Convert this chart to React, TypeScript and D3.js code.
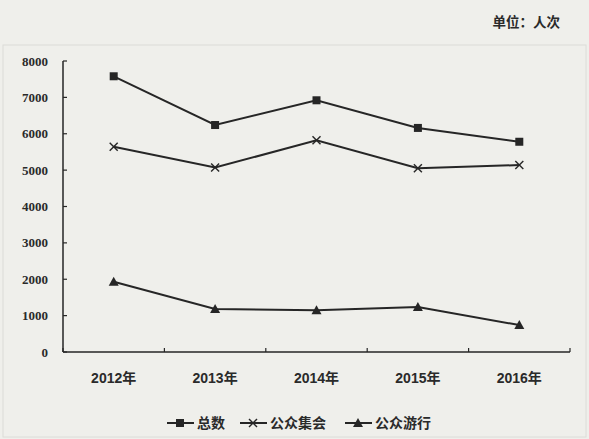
import React from "react";
import * as d3 from "d3";

const years = ["2012年", "2013年", "2014年", "2015年", "2016年"];
const totalValues = [7580, 6240, 6920, 6160, 5780];
const assemblyValues = [5640, 5070, 5820, 5050, 5140];
const processionValues = [1930, 1180, 1150, 1240, 740];
const seriesNames = ["总数", "公众集会", "公众游行"];
const yTicks = [0, 1000, 2000, 3000, 4000, 5000, 6000, 7000, 8000];
const unitLabel = "单位：人次";

const W = 589;
const H = 439;
const INK = "#262626";
const BG = "#efefeb";

function Marker({ kind, x, y }: { kind: string; x: number; y: number }) {
  if (kind === "square") {
    return <rect x={x - 4} y={y - 4} width={8} height={8} fill={INK} />;
  }
  if (kind === "cross") {
    return (
      <g stroke={INK} strokeWidth={1.4}>
        <line x1={x - 4} y1={y - 4} x2={x + 4} y2={y + 4} />
        <line x1={x - 4} y1={y + 4} x2={x + 4} y2={y - 4} />
      </g>
    );
  }
  return <path d={`M${x},${y - 5}L${x + 5},${y + 4}L${x - 5},${y + 4}Z`} fill={INK} />;
}

export default function App() {
  const left = 63;
  const right = 570;
  const top = 61;
  const bottom = 352;

  const x = d3.scaleBand<string>().domain(years).range([left, right]).padding(0);
  const y = d3.scaleLinear().domain([0, 8000]).range([bottom, top]);
  const cx = (d: string) => (x(d) as number) + x.bandwidth() / 2;

  const series = [
    { name: seriesNames[0], values: totalValues, marker: "square" },
    { name: seriesNames[1], values: assemblyValues, marker: "cross" },
    { name: seriesNames[2], values: processionValues, marker: "triangle" },
  ];

  const line = d3
    .line<number>()
    .x((_, i) => cx(years[i]))
    .y((v) => y(v));

  const bounds = [left, ...years.map((d) => (x(d) as number) + x.bandwidth())];

  const legendX = [167, 240, 345];
  const legendY = 423;

  return (
    <svg
      width={W}
      height={H}
      style={{ position: "absolute", left: 0, top: 0, background: BG }}
    >
      <rect x={0} y={0} width={W} height={H} fill={BG} />
      <rect x={3} y={45} width={583} height={392} fill="none" stroke="#dcdcd8" strokeWidth={1} />
      <text
        x={560}
        y={27}
        textAnchor="end"
        fontFamily="'Noto Sans CJK SC', sans-serif"
        fontWeight="bold"
        fontSize={13.5}
        fill="#2a2a2a"
      >
        {unitLabel}
      </text>

      {/* y axis */}
      <line x1={left} y1={top} x2={left} y2={bottom} stroke={INK} strokeWidth={1.5} />
      {yTicks.map((t) => (
        <g key={t}>
          <line x1={left} y1={y(t)} x2={left + 4} y2={y(t)} stroke={INK} strokeWidth={1.2} />
          <text
            x={48}
            y={y(t)}
            dy="0.35em"
            textAnchor="end"
            style={{ fontFamily: "'Liberation Serif', 'Times New Roman', serif" }}
            fontWeight="bold"
            fontSize={13}
            fill="#2a2a2a"
          >
            {t}
          </text>
        </g>
      ))}

      {/* x axis */}
      <line x1={left} y1={bottom} x2={right} y2={bottom} stroke={INK} strokeWidth={1.5} />
      {bounds.map((b, i) => (
        <line key={i} x1={b} y1={bottom} x2={b} y2={bottom - 4} stroke={INK} strokeWidth={1.2} />
      ))}
      {years.map((d) => (
        <text
          key={d}
          x={cx(d)}
          y={383}
          textAnchor="middle"
          fontFamily="'Liberation Sans', 'Noto Sans CJK SC', sans-serif"
          fontWeight="bold"
          fontSize={14}
          fill="#2a2a2a"
        >
          {d}
        </text>
      ))}

      {/* series */}
      {series.map((s) => (
        <g key={s.name}>
          <path d={line(s.values) || ""} fill="none" stroke={INK} strokeWidth={2} />
          {s.values.map((v, i) => (
            <Marker key={i} kind={s.marker} x={cx(years[i])} y={y(v)} />
          ))}
        </g>
      ))}

      {/* legend */}
      {series.map((s, i) => (
        <g key={s.name}>
          <line
            x1={legendX[i]}
            y1={legendY}
            x2={legendX[i] + 27}
            y2={legendY}
            stroke={INK}
            strokeWidth={2}
          />
          <Marker kind={s.marker} x={legendX[i] + 13} y={legendY} />
          <text
            x={legendX[i] + 30}
            y={legendY}
            dy="0.35em"
            fontFamily="'Noto Sans CJK SC', sans-serif"
            fontWeight="bold"
            fontSize={14}
            fill="#2a2a2a"
          >
            {s.name}
          </text>
        </g>
      ))}
    </svg>
  );
}
